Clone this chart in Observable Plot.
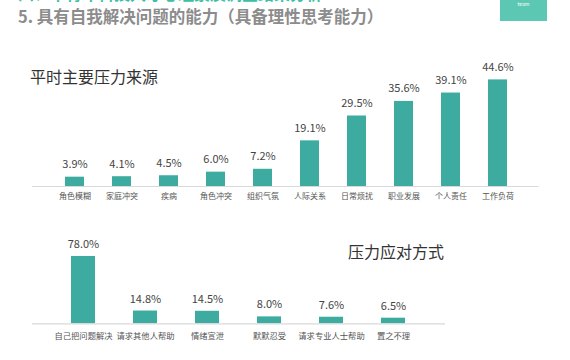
<!DOCTYPE html>
<html><head><meta charset="utf-8">
<script src="https://cdn.jsdelivr.net/npm/d3@7"></script>
<script src="https://cdn.jsdelivr.net/npm/@observablehq/plot@0.6"></script>
<style>
html,body{margin:0;padding:0;background:#fff;}
body{width:570px;height:360px;position:relative;overflow:hidden;font-family:"Noto Sans CJK SC","Noto Sans",sans-serif;}
.abs{position:absolute;white-space:nowrap;}
#cutbox{left:0;top:0;width:420px;height:5px;overflow:hidden;}
#cut{left:18px;top:-18px;font-size:16px;line-height:23px;font-weight:bold;color:#3cbfa6;}
#title{left:18px;top:4px;font-size:16.5px;font-weight:bold;color:#8c8c8c;}
#badge{left:500px;top:0;width:47px;height:21px;background:#5cc8b3;color:#fff;font-size:5px;text-align:center;line-height:7px;}
#t1{left:30px;top:64px;font-size:16px;color:#333;}
#t2{left:348px;top:239px;font-size:16px;color:#333;}
#c1{left:0;top:40px;}
#c2{left:0;top:225px;}
</style></head>
<body>
<div id="cutbox" class="abs"><div id="cut" class="abs">四、中青年科技人才心理素质调查结果分析</div></div>
<div id="title" class="abs">5. 具有自我解决问题的能力（具备理性思考能力）</div>
<div id="badge" class="abs">team</div>
<div id="t1" class="abs">平时主要压力来源</div>
<div id="t2" class="abs">压力应对方式</div>
<div id="c1" class="abs"></div>
<div id="c2" class="abs"></div>
<script>
const sources = ["角色模糊","家庭冲突","疾病","角色冲突","组织气氛","人际关系","日常烦扰","职业发展","个人责任","工作负荷"];
const sourceValues = [3.9,4.1,4.5,6.0,7.2,19.1,29.5,35.6,39.1,44.6];
const copings = ["自己把问题解决","请求其他人帮助","情绪宣泄","默默忍受","请求专业人士帮助","置之不理"];
const copingValues = [78.0,14.8,14.5,8.0,7.6,6.5];

const barColor = "#3dab9f";
const font = "'Noto Sans CJK SC','Noto Sans',sans-serif";

const d1 = sources.map((s,i)=>({k:s,v:sourceValues[i]}));
const d2 = copings.map((s,i)=>({k:s,v:copingValues[i]}));

const chart1 = Plot.plot({
  width:570, height:170,
  marginLeft:32, marginRight:31.3, marginTop:26.5, marginBottom:24,
  style:{fontFamily:font, background:"transparent"},
  x:{domain:sources, padding:0.605, label:null},
  y:{domain:[0,50], axis:null},
  marks:[
    Plot.barY(d1,{x:"k",y:"v",fill:barColor}),
    Plot.ruleY([0],{stroke:"#d9d9d9",strokeWidth:1.2}),
    Plot.text(d1,{x:"k",y:"v",text:d=>d.v.toFixed(1)+"%",dy:-12.5,fontSize:11,fill:"#444"}),
    Plot.axisX({tickSize:0,tickPadding:7,fontSize:8,color:"#555",label:null})
  ]
});
document.getElementById("c1").appendChild(chart1);

const chart2 = Plot.plot({
  width:570, height:125,
  marginLeft:32, marginRight:125, marginTop:20.6, marginBottom:26.7,
  style:{fontFamily:font, background:"transparent"},
  x:{domain:copings, padding:0.607, label:null},
  y:{domain:[0,90], axis:null},
  marks:[
    Plot.barY(d2,{x:"k",y:"v",fill:barColor}),
    Plot.ruleY([0],{stroke:"#d9d9d9",strokeWidth:1.2}),
    Plot.text(d2,{x:"k",y:"v",text:d=>d.v.toFixed(1)+"%",dy:-12,fontSize:11,fill:"#444"}),
    Plot.axisX({tickSize:0,tickPadding:9,fontSize:8.3,color:"#555",label:null})
  ]
});
document.getElementById("c2").appendChild(chart2);
</script>
</body></html>
